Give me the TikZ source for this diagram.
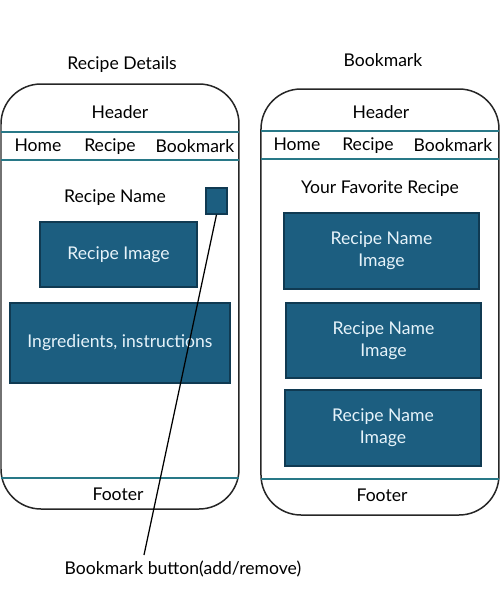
\documentclass[tikz,border=0pt]{standalone}
\usepackage{fontspec}
\setmainfont{Lato}
\usetikzlibrary{calc}
\definecolor{boxblue}{RGB}{28,94,128}
\definecolor{boxedge}{RGB}{16,58,82}
\definecolor{divteal}{RGB}{40,120,135}
\definecolor{boxtext}{RGB}{230,243,250}
\tikzset{
  phone/.style={line width=0.3mm, color=black!85, rounded corners=0.8cm},
  divider/.style={line width=0.3mm, color=divteal},
  card/.style={draw=boxedge, fill=boxblue, line width=0.25mm, text=boxtext, align=center, inner sep=0pt, font=\fontsize{10}{12.5}\selectfont},
  lbl/.style={font=\fontsize{10}{12}\selectfont, inner sep=1pt, text height=1.6ex, text depth=0.4ex}
}
\begin{document}
\begin{tikzpicture}[x=0.02cm, y=-0.02cm]
		%%%%% START %%%%%
		\useasboundingbox (0, 0) rectangle (500, 600);
		
		% left screen: recipe details
		\node[lbl] (titleL) at (122, 64) {Recipe Details};
		\draw[phone] (1, 84) rectangle (239, 509);
		\draw[divider] (1, 132) -- (239, 132);
		\draw[divider] (1, 160) -- (239, 160);
		\draw[divider] (1, 478) -- (239, 478);
		\node[lbl] (headL) at (120, 113) {Header};
		\node[lbl] (homeL) at (38, 146) {Home};
		\node[lbl] (recL) at (110, 146) {Recipe};
		\node[lbl] (bookL) at (195, 147) {Bookmark};
		\node[lbl] (nameL) at (115, 197) {Recipe Name};
		\node[card, minimum width=21*0.02cm, minimum height=26*0.02cm] (btn) at (216.5, 201) {};
		\node[card, minimum width=157*0.02cm, minimum height=65*0.02cm] (imgL) at (118.5, 254.5) {Recipe Image};
		\node[card, minimum width=220*0.02cm, minimum height=80*0.02cm] (ingL) at (120, 343) {Ingredients, instructions};
		\node[lbl] (footL) at (118, 495) {Footer};
		
		% right screen: bookmark
		\node[lbl] (titleR) at (383, 61) {Bookmark};
		\draw[phone] (261, 89) rectangle (499, 515);
		\draw[divider] (261, 131) -- (499, 131);
		\draw[divider] (261, 159) -- (499, 159);
		\draw[divider] (261, 479) -- (499, 479);
		\node[lbl] (headR) at (381, 113) {Header};
		\node[lbl] (homeR) at (297, 145) {Home};
		\node[lbl] (recR) at (368, 145) {Recipe};
		\node[lbl] (bookR) at (453, 146) {Bookmark};
		\node[lbl] (favR) at (380, 188) {Your Favorite Recipe};
		\node[card, minimum width=195*0.02cm, minimum height=76*0.02cm] (fav1) at (381.5, 251) {Recipe Name\\Image};
		\node[card, minimum width=195*0.02cm, minimum height=75*0.02cm] (fav2) at (383.5, 340.5) {Recipe Name\\Image};
		\node[card, minimum width=196*0.02cm, minimum height=76*0.02cm] (fav3) at (383, 428) {Recipe Name\\Image};
		\node[lbl] (footR) at (382, 496) {Footer};
		
		% callout
		\coordinate (btnend) at (144, 555);
		\draw[line width=0.25mm] (btn.south) -- (btnend);
		\node[lbl] (btnlbl) at (183, 569) {Bookmark button(add/remove)};
		
		%%%%% END %%%%%
	\end{tikzpicture}
\end{document}
